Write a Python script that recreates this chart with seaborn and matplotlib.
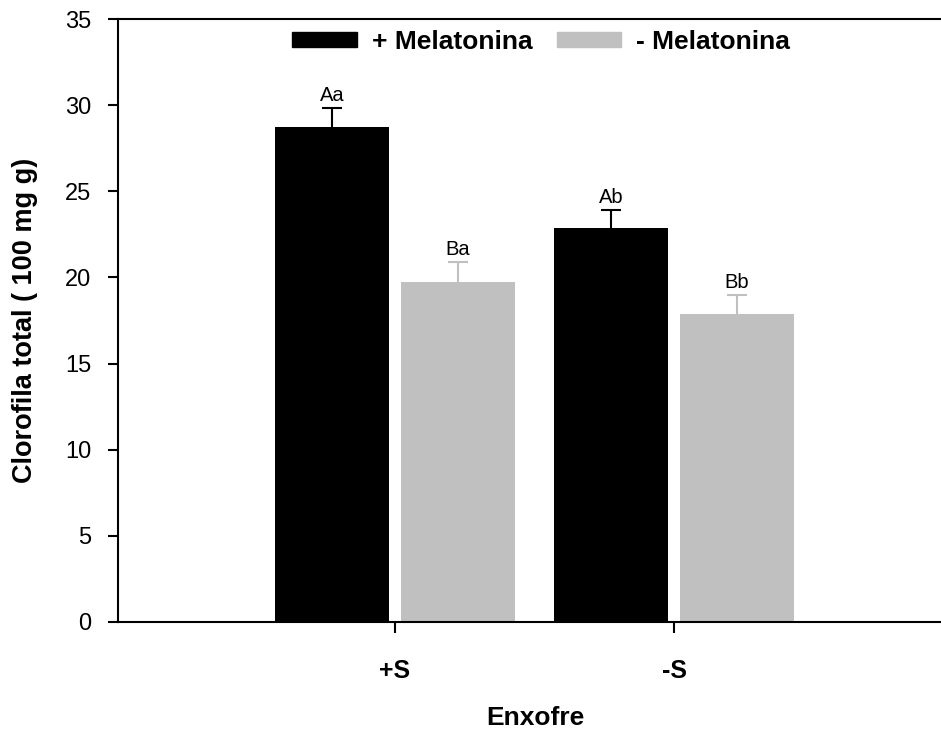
import pandas as pd
import numpy as np
import seaborn as sns
import matplotlib.pyplot as plt
import matplotlib.patches as mpatches

# data
enxofre = ['+S', '-S']
melatonina = ['+ Melatonina', '- Melatonina']
com_melatonina = [28.73, 22.85]
sem_melatonina = [19.75, 17.89]
erro_com = [1.12, 1.08]
erro_sem = [1.13, 1.09]
letras_com = ['Aa', 'Ab']
letras_sem = ['Ba', 'Bb']

cores = {'+ Melatonina': 'black', '- Melatonina': '#C0C0C0'}

df = pd.DataFrame({
    'Enxofre': enxofre * 2,
    'Melatonina': [melatonina[0]] * 2 + [melatonina[1]] * 2,
    'Clorofila': com_melatonina + sem_melatonina,
})

sns.set_style('ticks')
plt.rcParams['font.family'] = ['Liberation Sans', 'DejaVu Sans']
plt.rcParams['text.color'] = 'black'
plt.rcParams['axes.labelcolor'] = 'black'

fig = plt.figure(figsize=(9.41, 7.29), dpi=100)
ax = fig.add_axes([118 / 941, 107 / 729, 823 / 941, 603 / 729])

sns.barplot(data=df, x='Enxofre', y='Clorofila', hue='Melatonina',
            palette=cores, width=0.9, gap=0.09, linewidth=0,
            errorbar=None, legend=False, ax=ax)

erros = [erro_com, erro_sem]
letras = [letras_com, letras_sem]
for cont, err, let, nome in zip(ax.containers, erros, letras, melatonina):
    for bar, e, l in zip(cont, err, let):
        x = bar.get_x() + bar.get_width() / 2
        y = bar.get_height()
        eb = ax.errorbar(x, y, yerr=[[0], [e]], fmt='none', ecolor=cores[nome],
                         elinewidth=1.5, capsize=7.5, capthick=1.5, zorder=1)
        # only the upper cap, like the original
        eb[1][0].remove()
        ax.annotate(l, (x, y + e), xytext=(0, 2), textcoords='offset points',
                    ha='center', va='bottom', fontsize=14.5, color='black')

ax.set_xlim(-0.993, 1.957)
ax.set_ylim(0, 35)
ax.set_yticks(np.arange(0, 36, 5))

ax.spines['right'].set_visible(False)
for s in ['left', 'top', 'bottom']:
    ax.spines[s].set_linewidth(1.5)
    ax.spines[s].set_color('black')

ax.tick_params(axis='y', direction='out', length=7, width=1.5, pad=12,
               labelsize=17, colors='black')
ax.tick_params(axis='x', direction='out', length=8, width=1.5, pad=19,
               labelsize=18, colors='black')
for t in ax.get_xticklabels():
    t.set_fontweight('bold')

ax.set_xlabel('Enxofre', fontsize=19, fontweight='bold')
ax.xaxis.set_label_coords(0.507, -0.139)
ax.set_ylabel('Clorofila total ( 100 mg g)', fontsize=19.5, fontweight='bold')
ax.yaxis.set_label_coords(-0.097, 0.5)

handles = [mpatches.Patch(color=cores[m], label=m) for m in melatonina]
leg = ax.legend(handles=handles, loc='center', bbox_to_anchor=(0.514, 0.962),
                ncol=2, frameon=False, handlelength=2.45, handleheight=0.5,
                handletextpad=0.55, columnspacing=0.93,
                prop={'size': 19, 'weight': 'bold'})

fig.savefig('out.png', dpi=100)
